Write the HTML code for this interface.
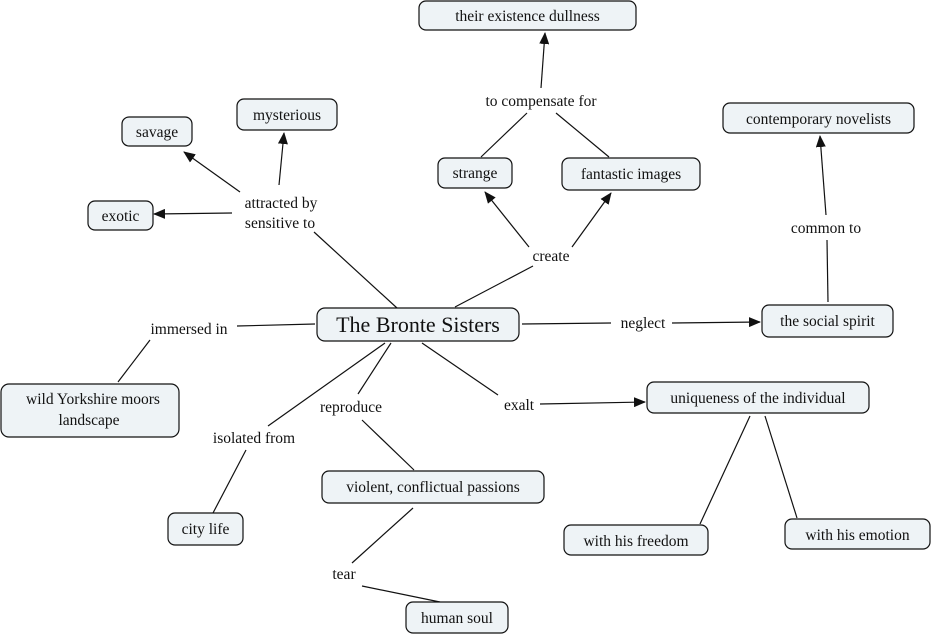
<!DOCTYPE html>
<html><head><meta charset="utf-8"><style>
html,body{margin:0;padding:0;background:#fff;width:932px;height:636px;overflow:hidden}
text{font-family:"Liberation Serif",serif;font-size:15.5px;fill:#111}
.n{fill:#eef3f6;stroke:#111;stroke-width:1.2}
line{stroke:#111;stroke-width:1.2}
</style></head><body>
<svg width="932" height="636" viewBox="0 0 932 636" xmlns="http://www.w3.org/2000/svg">
<defs><marker id="a" markerWidth="12" markerHeight="10" refX="11" refY="5" orient="auto" markerUnits="userSpaceOnUse"><path d="M0,0 L12,5 L0,10 z" fill="#111"/></marker></defs>
<!-- edges -->
<line x1="541" y1="88" x2="545" y2="33" marker-end="url(#a)"/>
<line x1="527" y1="113" x2="481" y2="157"/>
<line x1="556" y1="113" x2="609" y2="157"/>
<line x1="240" y1="192" x2="184" y2="152" marker-end="url(#a)"/>
<line x1="279" y1="185" x2="284" y2="133" marker-end="url(#a)"/>
<line x1="232" y1="213" x2="154" y2="214" marker-end="url(#a)"/>
<line x1="314" y1="232" x2="397" y2="308"/>
<line x1="455" y1="307" x2="533" y2="266"/>
<line x1="529" y1="247" x2="485" y2="192" marker-end="url(#a)"/>
<line x1="572" y1="247" x2="611" y2="193" marker-end="url(#a)"/>
<line x1="828" y1="302" x2="827" y2="240"/>
<line x1="826" y1="215" x2="820" y2="136" marker-end="url(#a)"/>
<line x1="315" y1="324" x2="237" y2="326"/>
<line x1="150" y1="340" x2="118" y2="382"/>
<line x1="522" y1="324" x2="611" y2="323"/>
<line x1="672" y1="323" x2="760" y2="322" marker-end="url(#a)"/>
<line x1="391" y1="343" x2="358" y2="394"/>
<line x1="362" y1="420" x2="414" y2="470"/>
<line x1="422" y1="343" x2="498" y2="395"/>
<line x1="540" y1="404" x2="645" y2="402" marker-end="url(#a)"/>
<line x1="385" y1="343" x2="268" y2="426"/>
<line x1="246" y1="450" x2="213" y2="513"/>
<line x1="413" y1="508" x2="352" y2="563"/>
<line x1="362" y1="586" x2="440" y2="602"/>
<line x1="750" y1="416" x2="700" y2="524"/>
<line x1="765" y1="416" x2="797" y2="518"/>
<!-- nodes -->
<rect class="n" x="419" y="1" width="217" height="29" rx="7"/><text x="527.5" y="21" text-anchor="middle">their existence dullness</text>
<rect class="n" x="122" y="117" width="70" height="29" rx="7"/><text x="157" y="137" text-anchor="middle">savage</text>
<rect class="n" x="237" y="99" width="100" height="31" rx="7"/><text x="287" y="120" text-anchor="middle">mysterious</text>
<rect class="n" x="438" y="158" width="74" height="30" rx="7"/><text x="475" y="178" text-anchor="middle">strange</text>
<rect class="n" x="562" y="158" width="138" height="32" rx="7"/><text x="631" y="179" text-anchor="middle">fantastic images</text>
<rect class="n" x="723" y="103" width="191" height="30" rx="7"/><text x="818.5" y="124" text-anchor="middle">contemporary novelists</text>
<rect class="n" x="88" y="201" width="65" height="29" rx="7"/><text x="120.5" y="221" text-anchor="middle">exotic</text>
<rect class="n" x="317" y="308" width="202" height="33" rx="8"/><text x="418" y="332" text-anchor="middle" style="font-size:22px">The Bronte Sisters</text>
<rect class="n" x="762" y="305" width="131" height="32" rx="7"/><text x="827.5" y="326" text-anchor="middle">the social spirit</text>
<rect class="n" x="1" y="384" width="178" height="53" rx="8"/><text x="93" y="404" text-anchor="middle">wild Yorkshire moors</text><text x="89" y="425" text-anchor="middle">landscape</text>
<rect class="n" x="647" y="382" width="222" height="31" rx="7"/><text x="758" y="403" text-anchor="middle">uniqueness of the individual</text>
<rect class="n" x="322" y="471" width="222" height="32" rx="7"/><text x="433" y="492" text-anchor="middle">violent, conflictual passions</text>
<rect class="n" x="168" y="513" width="75" height="32" rx="7"/><text x="205.5" y="534" text-anchor="middle">city life</text>
<rect class="n" x="564" y="525" width="144" height="30" rx="7"/><text x="636" y="546" text-anchor="middle">with his freedom</text>
<rect class="n" x="785" y="519" width="145" height="30" rx="7"/><text x="857.5" y="540" text-anchor="middle">with his emotion</text>
<rect class="n" x="406" y="602" width="102" height="31" rx="7"/><text x="457" y="623" text-anchor="middle">human soul</text>
<!-- labels -->
<text x="541" y="106" text-anchor="middle">to compensate for</text>
<text x="281" y="208" text-anchor="middle">attracted by</text>
<text x="280" y="228" text-anchor="middle">sensitive to</text>
<text x="551" y="261" text-anchor="middle">create</text>
<text x="826" y="233" text-anchor="middle">common to</text>
<text x="189" y="334" text-anchor="middle">immersed in</text>
<text x="643" y="328" text-anchor="middle">neglect</text>
<text x="351" y="412" text-anchor="middle">reproduce</text>
<text x="519" y="410" text-anchor="middle">exalt</text>
<text x="254" y="443" text-anchor="middle">isolated from</text>
<text x="344" y="579" text-anchor="middle">tear</text>
</svg>
</body></html>
